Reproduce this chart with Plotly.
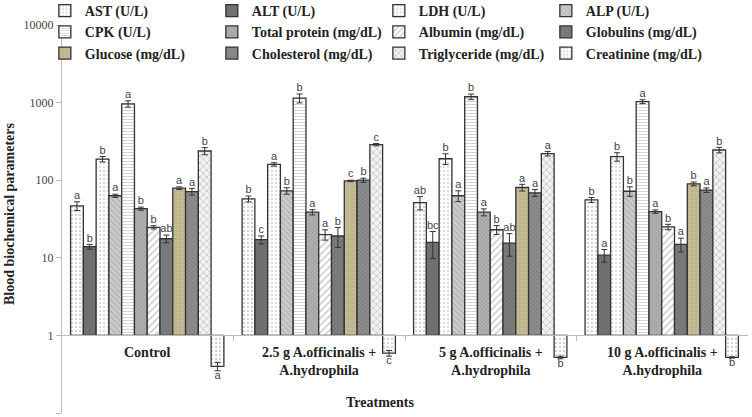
import plotly.graph_objects as go

# treatment groups (x categories)
groups = ["Control",
          "2.5 g A.officinalis +<br>A.hydrophila",
          "5 g A.officinalis +<br>A.hydrophila",
          "10 g A.officinalis +<br>A.hydrophila"]

params = ["AST (U/L)", "ALT (U/L)", "LDH (U/L)", "ALP (U/L)",
          "CPK (U/L)", "Total protein (mg/dL)", "Albumin (mg/dL)", "Globulins (mg/dL)",
          "Glucose (mg/dL)", "Cholesterol (mg/dL)", "Triglyceride (mg/dL)", "Creatinine (mg/dL)"]

# means, error bars and significance letters, one list per treatment (params order)
control_mean = [46.7, 13.9, 187, 63, 965, 43, 24.7, 17.6, 79, 71.4, 238, 0.40]
control_err = [6, 1, 15, 3, 90, 2, 1.2, 2, 3, 7, 25, 0.05]
control_sig = ["a", "b", "b", "a", "a", "b", "b", "ab", "a", "a", "b", "a"]

g25_mean = [57.5, 17.1, 160, 73, 1140, 38.7, 19.9, 19.1, 98, 100, 287, 0.59]
g25_err = [5, 2, 8, 7, 150, 3, 3, 5.5, 2, 6, 10, 0.05]
g25_sig = ["b", "c", "a", "b", "b", "a", "a", "b", "c", "b", "c", "c"]

g5_mean = [51.4, 15.8, 189, 63, 1190, 38.7, 23, 15.5, 80.5, 68.7, 220, 0.52]
g5_err = [10, 6, 30, 10, 100, 4, 3, 5, 8, 7, 15, 0.02]
g5_sig = ["ab", "bc", "b", "a", "b", "a", "b", "ab", "a", "a", "a", "b"]

g10_mean = [55.8, 10.8, 201, 72, 1030, 39.4, 25, 14.9, 89.8, 74.5, 245, 0.52]
g10_err = [4, 2, 25, 10, 60, 2, 2, 3, 5, 5, 20, 0.01]
g10_sig = ["b", "a", "b", "b", "a", "a", "b", "a", "b", "a", "b", "b"]

yticks = [0.1, 1, 10, 100, 1000, 10000]

means = [control_mean, g25_mean, g5_mean, g10_mean]
errs = [control_err, g25_err, g5_err, g10_err]
sigs = [control_sig, g25_sig, g5_sig, g10_sig]

# pattern styles: shape, background, foreground, size
styles = [
    (".", "#ffffff", "#a8a8a8", 4),
    ("", "#707070", "#707070", 4),
    (".", "#ffffff", "#b8b8b8", 4),
    ("\\", "#cccccc", "#959595", 4),
    ("-", "#ffffff", "#a0a0a0", 3),
    ("x", "#b0b0b0", "#7a7a7a", 3),
    ("/", "#ffffff", "#959595", 5),
    ("x", "#7e7e7e", "#505050", 3),
    (".", "#c4bb94", "#aea57f", 4),
    ("x", "#8e8e8e", "#5a5a5a", 3),
    ("x", "#f2f2f2", "#959595", 5),
    (".", "#ffffff", "#a8a8a8", 4),
]

serif = "Liberation Serif"
bw = 0.0745
start = -0.45
xs = list(range(len(groups)))

fig = go.Figure()
up_x, up_y, up_t = [], [], []
dn_x, dn_y, dn_t = [], [], []
for i, name in enumerate(params):
    vals = [m[i] for m in means]
    e = [er[i] for er in errs]
    shp, bg, fg, sz = styles[i]
    fig.add_trace(go.Bar(
        x=xs, y=[v - 1 for v in vals], base=1, width=bw, offset=start + i * bw,
        name=name,
        marker=dict(color=bg, line=dict(color="#333333", width=1.3),
                    pattern=dict(shape=shp, fgcolor=fg, bgcolor=bg, size=sz, solidity=0.3)),
        error_y=dict(type="data", array=e, color="#333333", thickness=1, width=3),
    ))
    for g in xs:
        cx = g + start + (i + 0.5) * bw
        if vals[g] >= 1:
            up_x.append(cx); up_y.append(vals[g] + e[g]); up_t.append(sigs[g][i])
        else:
            dn_x.append(cx); dn_y.append(vals[g] - e[g]); dn_t.append(sigs[g][i])

fig.add_trace(go.Scatter(x=up_x, y=up_y, text=up_t, mode="text", textposition="top center",
                         textfont=dict(family="Liberation Sans", size=11, color="#444444"),
                         showlegend=False))
fig.add_trace(go.Scatter(x=dn_x, y=dn_y, text=dn_t, mode="text", textposition="bottom center",
                         textfont=dict(family="Liberation Sans", size=11, color="#444444"),
                         showlegend=False))

for g, label in zip(xs, groups):
    fig.add_annotation(x=g, y=0, xref="x", yref="y", text="<b>%s</b>" % label,
                       showarrow=False, yanchor="top", yshift=-8,
                       font=dict(family=serif, size=14, color="#222222"))

fig.add_annotation(x=(380 - 62) / 686, y=(413 - 402) / 388, xref="paper", yref="paper",
                   text="<b>Treatments</b>", showarrow=False,
                   xanchor="center", yanchor="middle",
                   font=dict(family=serif, size=14, color="#222222"))
fig.add_annotation(x=(9 - 62) / 686, y=(413 - 214) / 388, xref="paper", yref="paper",
                   text="<b>Blood biochemical parameters</b>", showarrow=False, textangle=-90,
                   xanchor="center", yanchor="middle",
                   font=dict(family=serif, size=14, color="#222222"))

fig.update_layout(
    width=752, height=417,
    margin=dict(l=62, r=4, t=25, b=4, autoexpand=False),
    paper_bgcolor="white", plot_bgcolor="white",
    barmode="overlay", hovermode=False,
    legend=dict(orientation="h", entrywidth=122, entrywidthmode="pixels",
                x=-0.025, y=1.077, xanchor="left", yanchor="top",
                bgcolor="rgba(0,0,0,0)",
                font=dict(family=serif, size=14, color="#222222", weight="bold")),
    xaxis=dict(range=[-0.5, 3.5], anchor="free", position=0.2,
               showline=True, linecolor="#bbbbbb", linewidth=1,
               tickvals=[0.5, 1.5, 2.5], ticktext=["", "", ""],
               ticks="outside", ticklen=5, tickcolor="#bbbbbb",
               showgrid=False, zeroline=False),
    yaxis=dict(type="log", range=[-1, 4], tickvals=yticks,
               ticktext=[str(t) for t in yticks],
               showline=True, linecolor="#bbbbbb", linewidth=1,
               ticks="outside", ticklen=5, tickcolor="#bbbbbb",
               tickfont=dict(family=serif, size=12, color="#444444"),
               showgrid=False, zeroline=False),
)

# drop the browser's default 8px body margin so the figure fills the window
fig.write_html("out.html", config={"displayModeBar": False},
               post_script="document.body.style.margin='0';")
